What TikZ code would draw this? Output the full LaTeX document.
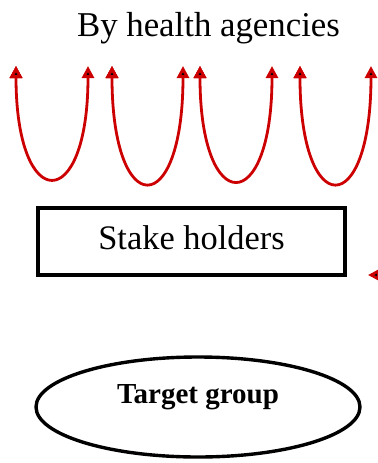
\documentclass[tikz,border=0pt]{standalone}
\usepackage{fontspec}
\setmainfont{Liberation Serif}
\usetikzlibrary{positioning,shapes.geometric,arrows.meta}

\begin{document}
\begin{tikzpicture}[x=0.5pt, y=-0.5pt,
        loopline/.style = {draw=red!80!black, line width=1.4pt,
            {Triangle[length=6pt,width=6pt]}-{Triangle[length=6pt,width=6pt]}},
        inline/.style   = {draw=red!80!black, line width=1.4pt,
            -{Triangle[length=6pt,width=6pt]}},
        holderbox/.style = {draw, line width=1.8pt, minimum width=153.5pt,
            minimum height=33.5pt, inner sep=0pt, text depth=4pt,
            font=\fontsize{17.2}{20}\selectfont},
        groupoval/.style = {draw, ellipse, line width=1.7pt, minimum width=162pt,
            minimum height=50pt, inner sep=0pt, text height=9.8pt, text depth=13.8pt,
            font=\fontsize{14.5}{17}\selectfont\bfseries}]
        \useasboundingbox (0,0) rectangle (378,463);

        % Place nodes
        \node (agency) at (208.5,28) {\fontsize{17.4}{20}\selectfont By health agencies};
        \node[holderbox]  (holders) at (191.5,241.5) {Stake holders};
        \node[groupoval]  (target)  at (198,407)     {Target group};

        % Loop ends
        \coordinate (a1) at (16,66);  \coordinate (b1) at (88,66);
        \coordinate (a2) at (112,66); \coordinate (b2) at (183,66);
        \coordinate (a3) at (200,66); \coordinate (b3) at (272,66);
        \coordinate (a4) at (300,66); \coordinate (b4) at (371,66);
        \coordinate (far) at (402,275); \coordinate (tip) at (368,275);

        % Draw edges
        \path [loopline] (a1) edge [out=-90, in=-90, looseness=5.3] (b1);
        \path [loopline] (a2) edge [out=-90, in=-90, looseness=5.6] (b2);
        \path [loopline] (a3) edge [out=-90, in=-90, looseness=5.4] (b3);
        \path [loopline] (a4) edge [out=-90, in=-90, looseness=5.6] (b4);
        \path [inline]   (far) edge (tip);
    \end{tikzpicture}
\end{document}
